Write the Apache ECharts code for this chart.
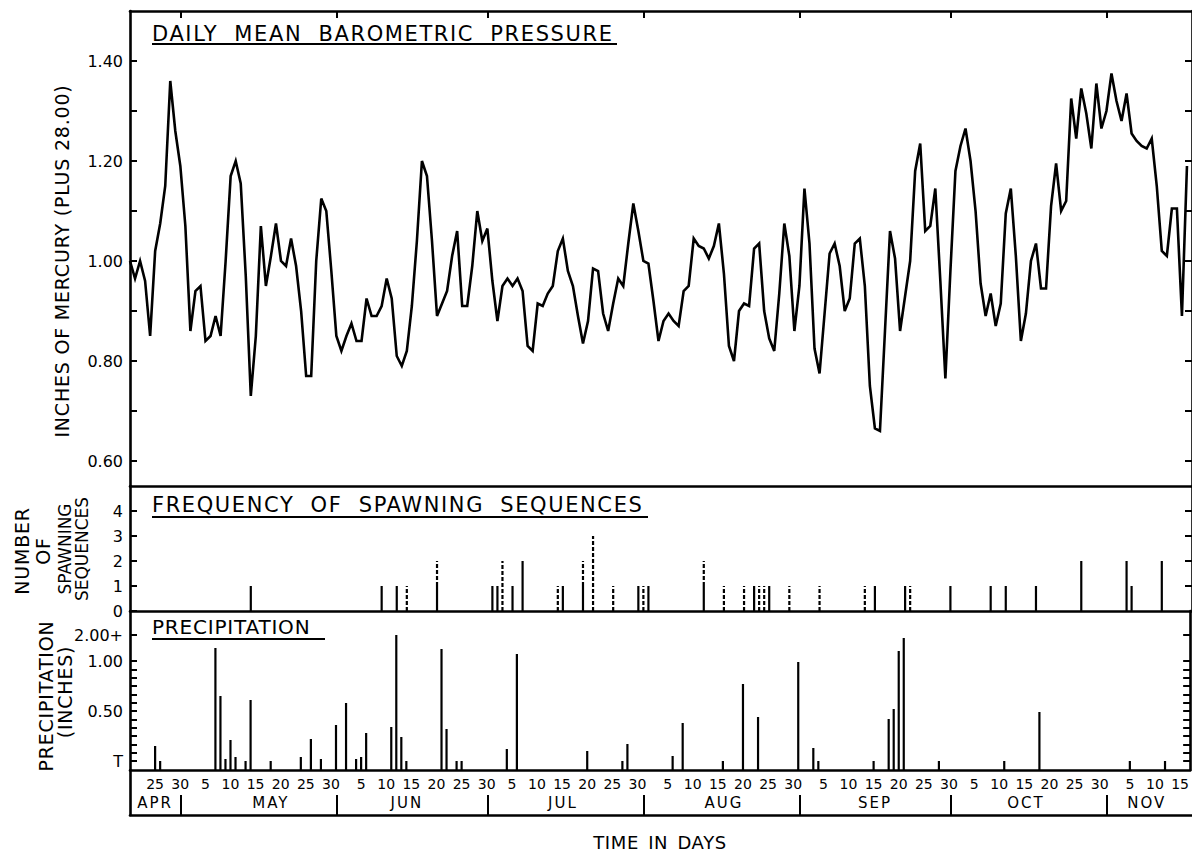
<!DOCTYPE html>
<html>
<head>
<meta charset="utf-8">
<script src="https://cdn.jsdelivr.net/npm/echarts@6/dist/echarts.min.js"></script>
<style>
  html, body { margin: 0; padding: 0; background: #fff; }
  #chart { width: 1192px; height: 853px; }
  /* lettering: panel titles are drawn widely spaced */
  #chart text[style*="21px"] { letter-spacing: 1.6px; word-spacing: 8px; }
  #chart text[style*="20px"] { letter-spacing: 0.8px; }
  #chart text[style*="19px"] { letter-spacing: 0.8px; }
  #chart text[style*="15px"] { letter-spacing: 2px; }
  #chart text[style*="18px"] { letter-spacing: 0.6px; word-spacing: 3px; }
</style>
</head>
<body>
<div id="chart"></div>
<script>
// ---------- calendar helpers (day 0 = 30 April) ----------
const MONTH_OFFSET = { APR: -30, MAY: 0, JUN: 31, JUL: 61, AUG: 92, SEP: 123, OCT: 153, NOV: 184 };
const dayNo = (m, d) => MONTH_OFFSET[m] + d;

// ---------- daily mean barometric pressure, inches of Hg above 28.00 ----------
const pressureStart = ['APR', 20];
const pressure = [
  1.00, 0.965, 1.00, 0.96, 0.85, 1.02, 1.075, 1.15, 1.36, 1.26,          // Apr 20-29
  1.19,                                                                 // Apr 30
  1.07, 0.86, 0.94, 0.95, 0.84, 0.85, 0.89, 0.85, 1.00, 1.17,            // May 1-10
  1.20, 1.155, 0.97, 0.73, 0.85, 1.07, 0.95, 1.01, 1.075, 1.00,          // May 11-20
  0.99, 1.045, 0.99, 0.90, 0.77, 0.77, 1.00, 1.125, 1.10, 0.98, 0.85,    // May 21-31
  0.82, 0.85, 0.875, 0.84, 0.84, 0.925, 0.89, 0.89, 0.91, 0.965,         // Jun 1-10
  0.925, 0.81, 0.79, 0.82, 0.91, 1.04, 1.20, 1.17, 1.04, 0.89,           // Jun 11-20
  0.915, 0.94, 1.01, 1.06, 0.91, 0.91, 0.99, 1.10, 1.04, 1.065,          // Jun 21-30
  0.96, 0.88, 0.95, 0.965, 0.95, 0.965, 0.94, 0.83, 0.82, 0.915,         // Jul 1-10
  0.91, 0.935, 0.95, 1.02, 1.045, 0.98, 0.95, 0.89, 0.835, 0.88,         // Jul 11-20
  0.985, 0.98, 0.895, 0.86, 0.915, 0.965, 0.95, 1.035, 1.115, 1.06, 1.00,// Jul 21-31
  0.995, 0.92, 0.84, 0.88, 0.895, 0.88, 0.87, 0.94, 0.95, 1.045,         // Aug 1-10
  1.03, 1.025, 1.005, 1.03, 1.075, 0.975, 0.83, 0.80, 0.90, 0.915,       // Aug 11-20
  0.91, 1.025, 1.035, 0.90, 0.845, 0.82, 0.935, 1.075, 1.01, 0.86, 0.95, // Aug 21-31
  1.145, 1.035, 0.825, 0.775, 0.895, 1.015, 1.035, 0.99, 0.90, 0.925,    // Sep 1-10
  1.035, 1.045, 0.95, 0.75, 0.665, 0.66, 0.86, 1.06, 1.005, 0.86,        // Sep 11-20
  0.93, 1.00, 1.18, 1.235, 1.06, 1.07, 1.145, 0.96, 0.765, 0.98,         // Sep 21-30
  1.18, 1.23, 1.265, 1.20, 1.10, 0.955, 0.89, 0.935, 0.87, 0.915,        // Oct 1-10
  1.095, 1.145, 1.01, 0.84, 0.895, 1.00, 1.035, 0.945, 0.945, 1.11,      // Oct 11-20
  1.195, 1.10, 1.12, 1.325, 1.245, 1.345, 1.295, 1.225, 1.355, 1.265, 1.30, // Oct 21-31
  1.375, 1.32, 1.28, 1.335, 1.255, 1.24, 1.23, 1.225, 1.245, 1.15,       // Nov 1-10
  1.02, 1.01, 1.105, 1.105, 0.89, 1.19                                   // Nov 11-16
];

// ---------- spawning sequences: date, solid count, dashed count ----------
const spawnDates = [
  ['MAY', 14], ['JUN', 9], ['JUN', 12], ['JUN', 14], ['JUN', 20],
  ['JUL', 1], ['JUL', 2], ['JUL', 3], ['JUL', 5], ['JUL', 7],
  ['JUL', 14], ['JUL', 15], ['JUL', 19], ['JUL', 21], ['JUL', 25],
  ['JUL', 30], ['JUL', 31], ['AUG', 1], ['AUG', 12], ['AUG', 16],
  ['AUG', 20], ['AUG', 22], ['AUG', 23], ['AUG', 24], ['AUG', 25],
  ['AUG', 29], ['SEP', 4], ['SEP', 13], ['SEP', 15], ['SEP', 21],
  ['SEP', 22], ['SEP', 30], ['OCT', 8], ['OCT', 11], ['OCT', 17],
  ['OCT', 26], ['NOV', 4], ['NOV', 5], ['NOV', 11]
];
const spawnSolid = [
  1, 1, 1, 0, 1,
  1, 1, 0, 1, 2,
  0, 1, 1, 0, 0,
  1, 0, 1, 1, 0,
  0, 1, 0, 0, 1,
  0, 0, 0, 1, 1,
  0, 1, 1, 1, 1,
  2, 2, 1, 2
];
const spawnDashed = [
  0, 0, 0, 1, 1,
  0, 0, 2, 0, 0,
  1, 0, 1, 3, 1,
  0, 1, 0, 1, 1,
  1, 0, 1, 1, 0,
  1, 1, 1, 0, 0,
  1, 0, 0, 0, 0,
  0, 0, 0, 0
];

// ---------- precipitation, inches ('T' = trace) ----------
const rainDates = [
  ['APR', 25], ['APR', 26], ['MAY', 7], ['MAY', 8], ['MAY', 9], ['MAY', 10], ['MAY', 11],
  ['MAY', 13], ['MAY', 14], ['MAY', 18], ['MAY', 24], ['MAY', 26], ['MAY', 28], ['MAY', 31],
  ['JUN', 2], ['JUN', 4], ['JUN', 5], ['JUN', 6], ['JUN', 11], ['JUN', 12], ['JUN', 13],
  ['JUN', 14], ['JUN', 21], ['JUN', 22], ['JUN', 24], ['JUN', 25], ['JUL', 4], ['JUL', 6],
  ['JUL', 20], ['JUL', 27], ['JUL', 28], ['AUG', 6], ['AUG', 8], ['AUG', 16], ['AUG', 20],
  ['AUG', 23], ['AUG', 31], ['SEP', 3], ['SEP', 4], ['SEP', 15], ['SEP', 18], ['SEP', 19],
  ['SEP', 20], ['SEP', 21], ['SEP', 28], ['OCT', 11], ['OCT', 18], ['NOV', 5], ['NOV', 12]
];
const rainInches = [
  0.15, 'T', 1.13, 0.65, 0.02, 0.21, 0.04,
  'T', 0.61, 'T', 0.04, 0.22, 0.02, 0.36,
  0.58, 0.02, 0.04, 0.28, 0.34, 2.00, 0.24,
  'T', 1.12, 0.32, 'T', 'T', 0.12, 1.07,
  0.10, 'T', 0.17, 0.05, 0.38, 'T', 0.77,
  0.44, 0.99, 0.13, 'T', 'T', 0.42, 0.52,
  1.10, 1.23, 'T', 'T', 0.49, 'T', 'T'
];

// ---------- axis ticks and labels ----------
const pressureLabels = [0.60, 0.80, 1.00, 1.20, 1.40];
const pressureMinor = [0.60, 0.70, 0.80, 0.90, 1.00, 1.10, 1.20, 1.30, 1.40];
const spawnLabels = [0, 1, 2, 3, 4];
const rainLabels = ['T', '0.50', '1.00', '2.00+'];
const RAIN_TOP = 1.26;           // level of the "2.00+" mark; 2.00 in. and more is drawn there
const rainLabelValues = [0, 0.5, 1.0, RAIN_TOP];
const dayTicks = {
  APR: [25, 30], MAY: [5, 10, 15, 20, 25, 30], JUN: [5, 10, 15, 20, 25, 30],
  JUL: [5, 10, 15, 20, 25, 30], AUG: [5, 10, 15, 20, 25, 30], SEP: [5, 10, 15, 20, 25, 30],
  OCT: [5, 10, 15, 20, 25, 30], NOV: [5, 10, 15]
};
const monthNames = ['APR', 'MAY', 'JUN', 'JUL', 'AUG', 'SEP', 'OCT', 'NOV'];
const monthNameDay = [25, 18, 14, 15, 16, 15, 15, 8];   // day of the month under which the name sits
const monthEnds = [['APR', 30], ['MAY', 31], ['JUN', 30], ['JUL', 31], ['AUG', 31], ['SEP', 30], ['OCT', 31]];

// ---------- derived series ----------
const X_MIN = dayNo('APR', 20), X_MAX = dayNo('NOV', 17);
const start = dayNo(pressureStart[0], pressureStart[1]);
const pressureData = pressure.map((v, i) => [start + i, v]);
const spawnData = spawnDates.map((d, i) => [dayNo(d[0], d[1]), spawnSolid[i], spawnDashed[i]]);
const rainData = rainDates.map((d, i) => [dayNo(d[0], d[1]), rainInches[i] === 'T' ? 0 : rainInches[i]]);
const RAIN_MIN = -0.09;

const dayLabelMap = new Map();
Object.keys(dayTicks).forEach(m => dayTicks[m].forEach(d => dayLabelMap.set(dayNo(m, d), String(d))));
const monthLabelMap = new Map();
monthNames.forEach((m, i) => monthLabelMap.set(dayNo(m, monthNameDay[i]), m));
const monthEndDays = monthEnds.map(e => dayNo(e[0], e[1]));
const minorRain = [];
for (let k = 0; k <= 12; k++) minorRain.push(k / 12);
minorRain.push(RAIN_TOP);

const INK = '#000';
const FONT = 'DejaVu Sans';
const AXIS_W = 2.6;

const GRID_LEFT = 130, GRID_RIGHT = -3;
const grids = [
  { left: GRID_LEFT, right: GRID_RIGHT, top: 11, height: 475 },
  { left: GRID_LEFT, right: GRID_RIGHT, top: 486, height: 125 },
  { left: GRID_LEFT, right: GRID_RIGHT, top: 611, height: 159 },
  { left: GRID_LEFT, right: GRID_RIGHT, top: 770, height: 45 }
];

const plainX = (grid, pos, extra) => Object.assign({
  type: 'value', gridIndex: grid, position: pos, min: X_MIN, max: X_MAX,
  axisLine: { show: true, onZero: false, lineStyle: { color: INK, width: AXIS_W } },
  axisTick: { show: false }, axisLabel: { show: false }, splitLine: { show: false }
}, extra || {});

const sideY = (grid, pos, min, max, ticks, labels, fmt, extra) => Object.assign({
  type: 'value', gridIndex: grid, position: pos, min: min, max: max,
  axisLine: { show: true, onZero: false, lineStyle: { color: INK, width: AXIS_W } },
  axisTick: ticks ? { show: true, inside: true, length: 7, customValues: ticks, lineStyle: { color: INK, width: 2 } } : { show: false },
  axisLabel: labels ? { show: true, customValues: labels, formatter: fmt, margin: 7, color: INK, fontFamily: FONT, fontSize: 16 } : { show: false },
  splitLine: { show: false }
}, extra || {});

function vline(p0, p1, dashed) {
  return {
    type: 'line',
    shape: { x1: p0[0], y1: p0[1], x2: p1[0], y2: p1[1] },
    style: { stroke: INK, lineWidth: 2.2, lineDash: dashed ? [4, 2] : null }
  };
}

function renderSpawn(params, api) {
  const d = api.value(0), solid = api.value(1), dashed = api.value(2);
  const base = api.coord([d, 0]);
  const mid = api.coord([d, solid]);
  const top = api.coord([d, solid + dashed]);
  const children = [];
  if (solid > 0) children.push(vline(base, mid, false));
  if (dashed > 0) children.push(vline(mid, top, true));
  return { type: 'group', children: children };
}

function renderRain(params, api) {
  const d = api.value(0), v = api.value(1);
  return vline(api.coord([d, RAIN_MIN]), api.coord([d, Math.min(v, RAIN_TOP)]), false);
}

const txt = (x, y, text, size, opts) => Object.assign({
  type: 'text', x: x, y: y, silent: true,
  style: Object.assign({ text: text, fill: INK, fontFamily: FONT, fontSize: size, align: 'left', verticalAlign: 'middle' }, (opts && opts.style) || {})
}, opts && opts.rotation != null ? { rotation: opts.rotation } : {});

const rule = (x1, x2, y) => ({ type: 'line', silent: true, shape: { x1: x1, y1: y, x2: x2, y2: y }, style: { stroke: INK, lineWidth: 2 } });

const option = {
  animation: false,
  backgroundColor: '#fff',
  grid: grids,
  xAxis: [
    plainX(0, 'top', { axisTick: { show: true, inside: true, length: 7, customValues: monthEndDays, lineStyle: { color: INK, width: 2 } } }),
    plainX(0, 'bottom'),
    plainX(1, 'bottom'),
    plainX(2, 'bottom', {
      axisLabel: {
        show: true, customValues: Array.from(dayLabelMap.keys()), formatter: v => dayLabelMap.get(v),
        margin: 7, color: INK, fontFamily: FONT, fontSize: 14
      }
    }),
    plainX(3, 'bottom', {
      axisTick: { show: true, inside: true, length: 20, customValues: monthEndDays, lineStyle: { color: INK, width: 2 } },
      axisLabel: {
        show: true, inside: true, customValues: Array.from(monthLabelMap.keys()), formatter: v => monthLabelMap.get(v),
        margin: 5, color: INK, fontFamily: FONT, fontSize: 15
      }
    })
  ],
  yAxis: [
    sideY(0, 'left', 0.55, 1.50, pressureMinor, pressureLabels, v => v.toFixed(2)),
    sideY(0, 'right', 0.55, 1.50, pressureMinor, null),
    sideY(1, 'left', 0, 5, spawnLabels, spawnLabels, v => String(v)),
    sideY(1, 'right', 0, 5, [1, 2, 3, 4], null),
    sideY(2, 'left', RAIN_MIN, 1.5, minorRain, rainLabelValues, v => rainLabels[rainLabelValues.indexOf(v)]),
    sideY(2, 'right', RAIN_MIN, 1.5, minorRain, null),
    sideY(3, 'left', 0, 1, null, null)
  ],
  series: [
    {
      name: 'Daily mean barometric pressure', type: 'line', xAxisIndex: 1, yAxisIndex: 0,
      data: pressureData, showSymbol: false, symbol: 'none',
      lineStyle: { color: INK, width: 2.6, join: 'miter' }
    },
    {
      name: 'Spawning sequences', type: 'custom', xAxisIndex: 2, yAxisIndex: 2,
      data: spawnData, renderItem: renderSpawn
    },
    {
      name: 'Precipitation', type: 'custom', xAxisIndex: 3, yAxisIndex: 4,
      data: rainData, renderItem: renderRain
    }
  ],
  graphic: [
    txt(152, 34, 'DAILY MEAN BAROMETRIC PRESSURE', 21),
    rule(152, 617, 44),
    txt(152, 505, 'FREQUENCY OF SPAWNING SEQUENCES', 21),
    rule(152, 648, 517),
    txt(152, 627, 'PRECIPITATION', 20),
    rule(152, 325, 639),
    txt(62, 261, 'INCHES OF MERCURY (PLUS 28.00)', 19, { rotation: Math.PI / 2, style: { align: 'center' } }),
    txt(22, 551, 'NUMBER', 19, { rotation: Math.PI / 2, style: { align: 'center' } }),
    txt(43, 551, 'OF', 19, { rotation: Math.PI / 2, style: { align: 'center' } }),
    txt(65, 549, 'SPAWNING', 17, { rotation: Math.PI / 2, style: { align: 'center' } }),
    txt(82, 549, 'SEQUENCES', 17, { rotation: Math.PI / 2, style: { align: 'center' } }),
    txt(46, 696, 'PRECIPITATION', 19, { rotation: Math.PI / 2, style: { align: 'center' } }),
    txt(65, 692, '(INCHES)', 19, { rotation: Math.PI / 2, style: { align: 'center' } }),
    txt(660, 842, 'TIME IN DAYS', 18, { style: { align: 'center' } })
  ]
};

const chart = echarts.init(document.getElementById('chart'), null, { renderer: 'svg' });
chart.setOption(option);
</script>
</body>
</html>
